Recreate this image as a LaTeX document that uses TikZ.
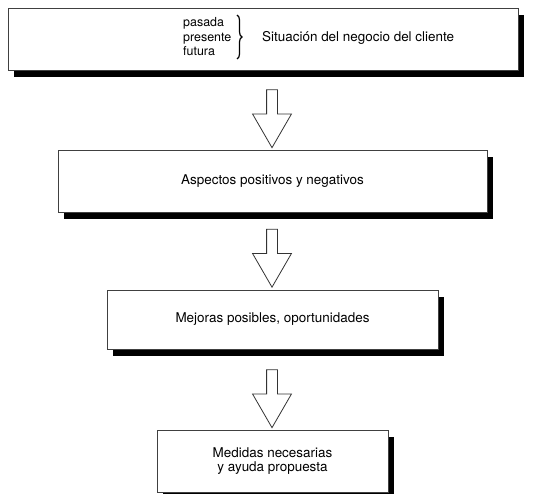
\documentclass[tikz,border=0pt]{standalone}
\usepackage{fontspec}
\setmainfont{TeX Gyre Heros}
\usepackage{tikz}
\usetikzlibrary{
    shapes,
    shapes.arrows,
    shadows,
    decorations.pathreplacing,
    positioning
}
\tikzset{
    caja/.style={draw=black!75,line width=0.8bp,fill=white,inner sep=0pt,
      drop shadow={shadow xshift=6bp,shadow yshift=-7bp,fill=black,opacity=1}},
    flecha/.style={shape=single arrow,draw=black!80,line width=0.8bp,fill=white,
      rotate=-90,single arrow tip angle=60,single arrow head extend=14bp,
      minimum height=58bp,inner xsep=0pt,inner ysep=5bp},
    llave/.style={decorate,decoration={brace,amplitude=5bp},line width=1.2bp}
  }

\begin{document}
\begin{tikzpicture}[x=1bp,y=-1bp,font=\fontsize{13.5}{14.5}\selectfont]
				\useasboundingbox (0,0) rectangle (542,494);
				\node at (263,39) [caja,minimum width=510bp,minimum height=62bp] (situacion) {};
				\node at (183,37) [anchor=west,inner sep=0pt,font=\fontsize{12.5}{14.5}\selectfont,align=left] (tiempos)
					{pasada\\presente\\futura};
				\node at (262,37.5) [anchor=west,inner sep=0pt] (cliente) {Situación del negocio del cliente};
				\coordinate (llavearriba) at (237,15);
				\coordinate (llaveabajo) at (237,59);
				\draw[llave] (llavearriba) -- (llaveabajo);
				\node at (272.5,181) [caja,minimum width=429bp,minimum height=62bp] (aspectos)
					{Aspectos positivos y negativos};
				\node at (272.5,319.5) [caja,minimum width=331bp,minimum height=59bp] (mejoras)
					{Mejoras posibles, oportunidades};
				\node at (272.5,461) [caja,minimum width=231bp,minimum height=62bp,align=center] (medidas)
					{Medidas necesarias\\y ayuda propuesta};
				% flechas entre las cajas
				\node at (272,114) [flecha] (f1) {};
				\node at (272,253.5) [flecha] (f2) {};
				\node at (272,394) [flecha] (f3) {};
			\end{tikzpicture}
\end{document}
